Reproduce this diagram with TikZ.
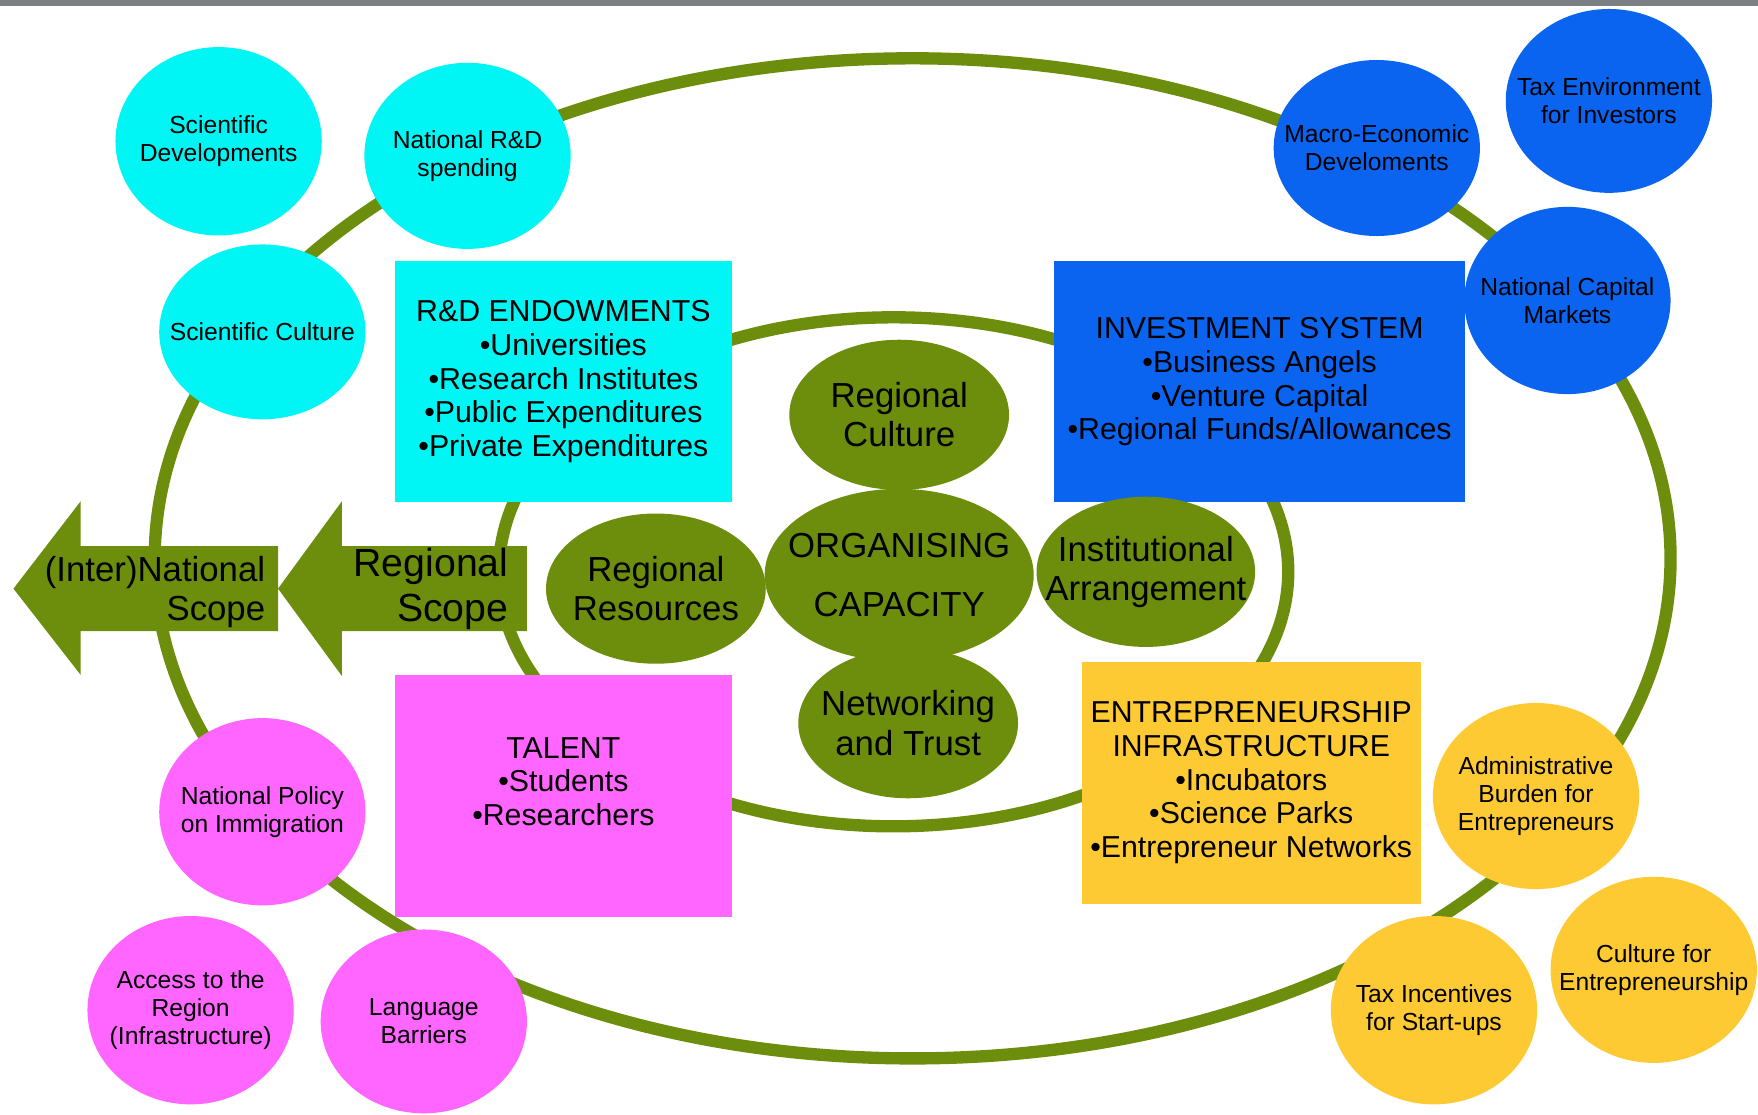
\documentclass[tikz,border=0pt]{standalone}
\usepackage{fontspec}
\setmainfont{Liberation Sans}
\usetikzlibrary{shapes.geometric}

\definecolor{ringgreen}{RGB}{108,142,12}
\definecolor{sciencecyan}{RGB}{0,245,245}
\definecolor{investblue}{RGB}{10,100,240}
\definecolor{talentpink}{RGB}{255,102,255}
\definecolor{entreyellow}{RGB}{254,202,52}
\definecolor{topgrey}{RGB}{124,128,132}

\tikzset{
  ring/.style={draw=ringgreen, line width=11pt},
  blob/.style={ellipse, inner sep=-60pt, minimum width=184pt, minimum height=166pt,
    align=center, font=\fontsize{22}{25}\selectfont},
  box/.style={rectangle, inner sep=0pt, align=center, font=\fontsize{27}{30}\selectfont},
  core/.style={ellipse, fill=ringgreen, inner sep=-60pt, minimum width=196pt,
    minimum height=134pt, align=center, font=\fontsize{31}{35}\selectfont},
}

\begin{document}
\begin{tikzpicture}[x=1pt, y=-1pt]
    \useasboundingbox (0,0) rectangle (1568,994);
    \fill[topgrey] (0,0) rectangle (1568,5);

    % the two scopes
    \draw[ring] (814,498) ellipse [x radius=676pt, y radius=446pt];
    \draw[ring] (797,510) ellipse [x radius=352pt, y radius=227pt];

    % scope arrows
    \fill[ringgreen] (12,525) -- (72,447) -- (72,487) -- (248,487) -- (248,563)
        -- (72,563) -- (72,602) -- cycle;
    \fill[ringgreen] (248,525) -- (305,447) -- (305,487) -- (470,487) -- (470,563)
        -- (305,563) -- (305,603) -- cycle;
    \draw
    (240,528) node[anchor=east, align=right, font=\fontsize{31}{35}\selectfont](natscope){(Inter)National\\Scope}
    (457,525) node[anchor=east, align=right, font=\fontsize{35}{40}\selectfont](regscope){Regional\\Scope};

    % four pillars
    \draw
    (502.5,340.5) node[box, fill=sciencecyan, minimum width=301pt, minimum height=215pt](rd)
        {R\&D ENDOWMENTS\\\textbullet Universities\\\textbullet Research Institutes\\\textbullet Public Expenditures\\\textbullet Private Expenditures}
    (1123.5,340.5) node[box, fill=investblue, minimum width=367pt, minimum height=215pt](inv)
        {INVESTMENT SYSTEM\\\textbullet Business Angels\\\textbullet Venture Capital\\\textbullet Regional Funds/Allowances}
    (502.5,710) node[box, fill=talentpink, minimum width=301pt, minimum height=216pt, text depth=26pt](talent)
        {TALENT\\\textbullet Students\\\textbullet Researchers}
    (1116,698) node[box, fill=entreyellow, minimum width=302pt, minimum height=216pt](entre)
        {ENTREPRENEURSHIP\\INFRASTRUCTURE\\\textbullet Incubators\\\textbullet Science Parks\\\textbullet Entrepreneur Networks};

    % organising capacity
    \draw
    (802,370) node[core](rcult){Regional\\Culture}
    (585,525) node[core](rres){Regional\\Resources}
    (1022,510) node[core, minimum width=195pt](inst){Institutional\\Arrangement}
    (810,645) node[core](net){Networking\\and Trust}
    (802,513) node[core, minimum width=240pt, minimum height=154pt, font=\fontsize{31}{53}\selectfont](org){ORGANISING\\CAPACITY};

    % national conditions
    \draw
    (195,126) node[blob, fill=sciencecyan, minimum height=168pt](sdev){Scientific\\Developments}
    (417,139) node[blob, fill=sciencecyan](nrd){National R\&D\\spending}
    (234,296) node[blob, fill=sciencecyan, minimum height=156pt](sculture){Scientific Culture}
    (1228,132) node[blob, fill=investblue, minimum height=157pt](macro){Macro-Economic\\Develoments}
    (1435,90) node[blob, fill=investblue, minimum height=164pt](taxinv){Tax Environment\\for Investors}
    (1398,268) node[blob, fill=investblue, minimum height=167pt](ncap){National Capital\\Markets}
    (234,724) node[blob, fill=talentpink, minimum height=167pt](npol){National Policy\\on Immigration}
    (170,901) node[blob, fill=talentpink, minimum height=168pt](access){Access to the\\Region\\(Infrastructure)}
    (378,911) node[blob, fill=talentpink, minimum height=164pt](lang){Language\\Barriers}
    (1370,710) node[blob, fill=entreyellow](admin){Administrative\\Burden for\\Entrepreneurs}
    (1279,901) node[blob, fill=entreyellow, minimum height=168pt](taxinc){Tax Incentives\\for Start-ups}
    (1475,865) node[blob, fill=entreyellow](cult){Culture for\\Entrepreneurship};

  \end{tikzpicture}
\end{document}
